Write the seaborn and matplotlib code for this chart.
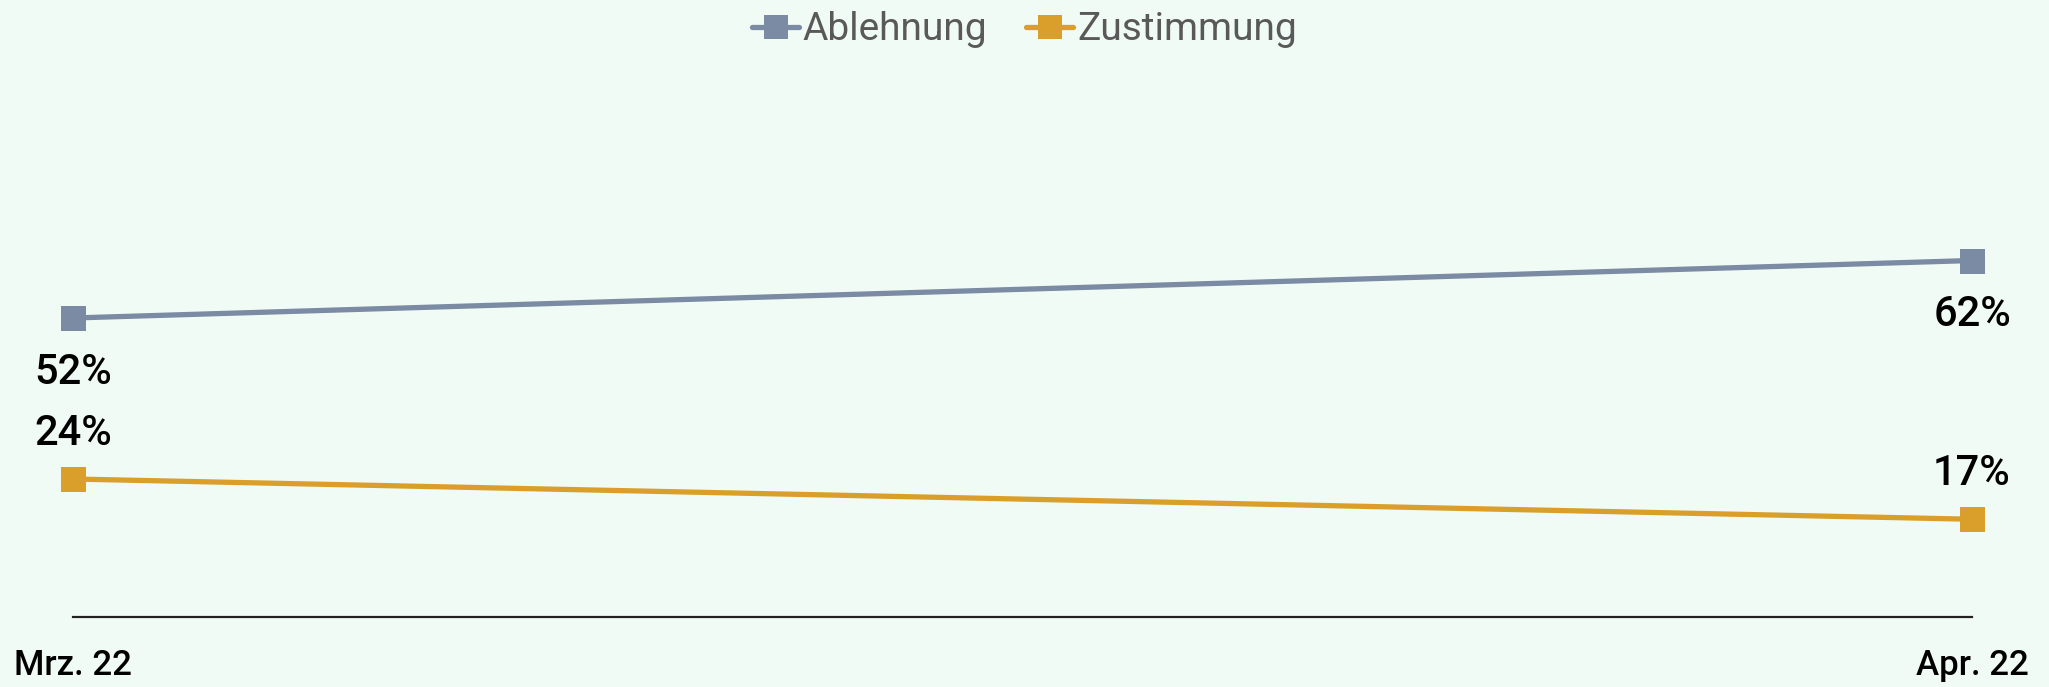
import matplotlib
matplotlib.use("Agg")
import matplotlib.pyplot as plt
import seaborn as sns
import pandas as pd

# Daten
monate = ['Mrz. 22', 'Apr. 22']
ablehnung = [52, 62]
zustimmung = [24, 17]
serien = ['Ablehnung', 'Zustimmung']
farben = ['#7A8BA3', '#DA9F2A']

df = pd.DataFrame({
    'Monat': monate * 2,
    'Wert': ablehnung + zustimmung,
    'Serie': [serien[0]] * len(monate) + [serien[1]] * len(monate),
})

sns.set_theme(style='white')
plt.rcParams['font.family'] = ['Roboto', 'DejaVu Sans']
bg = '#F1FBF6'

fig = plt.figure(figsize=(20.49, 6.87), dpi=100, facecolor=bg)
ax = fig.add_axes([73 / 2049, 1 - 617 / 687, (1972 - 73) / 2049, (617 - 42) / 687])
ax.set_facecolor(bg)

sns.lineplot(data=df, x='Monat', y='Wert', hue='Serie', style='Serie',
             markers=['s', 's'], dashes=False, palette=farben, sort=False,
             linewidth=3.8, markersize=18, markeredgewidth=0, ax=ax,
             clip_on=False)

ax.set_xlim(0, len(monate) - 1)
ax.set_ylim(0, 100)
ax.set_xlabel('')
ax.set_ylabel('')
ax.set_yticks([])
for s in ['top', 'right', 'left']:
    ax.spines[s].set_visible(False)
ax.spines['bottom'].set_color('#222222')
ax.spines['bottom'].set_linewidth(1.6)
ax.tick_params(axis='x', length=0, pad=23, labelsize=25, labelcolor='black')
for lbl in ax.get_xticklabels():
    lbl.set_fontweight('medium')

# Datenbeschriftungen
for i, v in enumerate(ablehnung):
    ax.annotate(f'{v}%', (i, v), xytext=(0, -39), textcoords='offset points',
                ha='center', va='center', fontsize=30, fontweight='medium', color='black')
for i, v in enumerate(zustimmung):
    ax.annotate(f'{v}%', (i, v), xytext=(0, 33), textcoords='offset points',
                ha='center', va='center', fontsize=30, fontweight='medium', color='black')

leg = ax.legend(loc='center', bbox_to_anchor=(0.5, 1 - 30 / 687), bbox_transform=fig.transFigure,
                ncol=2, frameon=False, fontsize=28, labelcolor='#595959',
                handlelength=1.2, handletextpad=0.1, columnspacing=1.0)
for h in leg.legend_handles:
    h.set_markersize(17)
    h.set_linewidth(3.8)

fig.savefig('out.png', dpi=100, facecolor=bg)
